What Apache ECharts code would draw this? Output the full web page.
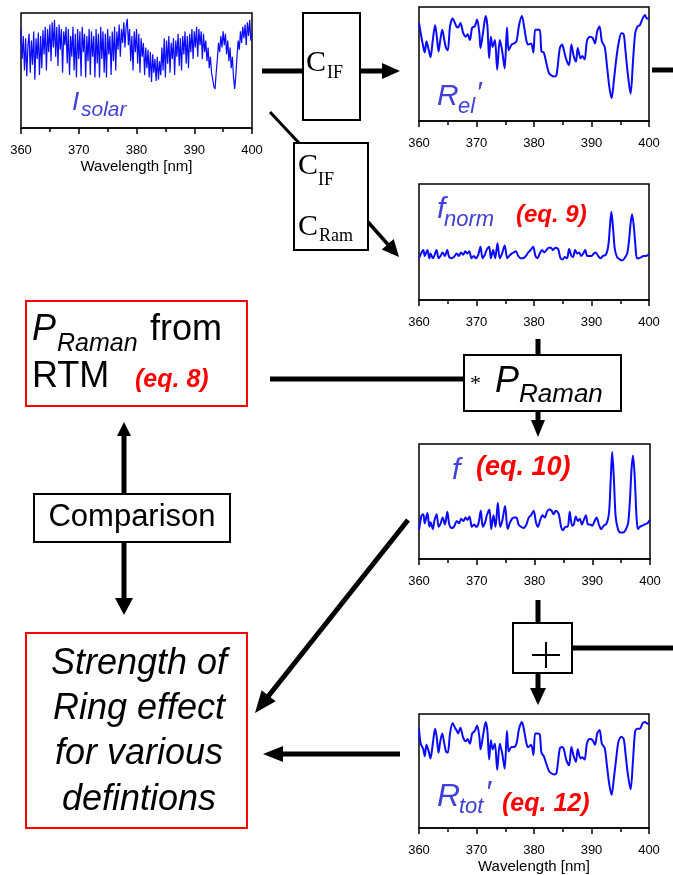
<!DOCTYPE html>
<html><head><meta charset="utf-8">
<script src="https://cdn.jsdelivr.net/npm/echarts@6/dist/echarts.min.js"></script>
<style>html,body{margin:0;padding:0;background:#fff}#c{width:673px;height:875px}</style>
</head><body><div id="c"></div>
<script>
// ---------- data ----------
const xTicks = [360, 370, 380, 390, 400];
const wlSolarStart = 360, wlSolarStep = 0.2;
const isolar = [
86,60,80,50,78,45,72,82,48,76,55,
84,42,78,60,83,46,80,52,85,64,
88,50,86,66,90,58,92,70,94,62,
88,54,90,68,86,48,84,72,88,56,
86,46,80,62,88,50,82,44,86,60,
84,45,88,66,82,44,80,58,86,46,
84,62,80,44,86,56,82,44,88,60,
84,48,82,44,86,64,80,46,84,58,
88,50,84,68,90,62,86,74,92,70,
88,95,72,86,58,80,50,84,66,86,
56,82,48,78,62,74,46,70,52,68,
44,66,40,64,48,60,41,62,42,58,
46,70,50,78,44,76,56,80,48,74,
60,78,46,76,62,82,54,78,50,80,
64,84,56,80,52,82,66,86,60,84,
70,88,62,86,72,84,60,82,66,76,
58,70,52,62,48,42,36,34,48,60,
74,66,80,70,84,72,82,64,76,58,
70,52,62,44,34,46,62,76,68,84,
74,88,78,90,72,92,80,94,76,82
];
const wlRefl = [360.0,360.3,360.75,361.0,361.3,361.7,362.0,362.4,362.8,363.1,
363.4,363.7,364.05,364.4,364.7,365.0,365.4,365.85,366.25,366.5,
366.8,367.2,367.7,368.15,368.45,368.85,369.25,369.7,370.1,370.5,
370.7,371.2,371.6,371.9,372.2,372.5,372.8,373.2,373.6,374.05,
374.45,374.9,375.3,375.6,376.1,376.5,376.95,377.4,377.9,378.3,
378.7,379.0,379.5,379.9,380.2,380.6,381.0,381.3,381.7,382.1,
382.6,383.0,383.5,383.9,384.5,384.9,385.2,385.6,386.1,386.5,
386.9,387.3,387.6,388.1,388.4,388.8,389.2,389.7,390.2,390.6,
391.0,391.4,391.8,392.3,392.7,393.1,393.5,393.9,394.3,394.7,
395.2,395.6,395.9,396.3,396.8,397.2,397.6,398.0,398.4,398.9,
399.3,399.6,400.0];
const relPrime = [86,77,65,60,70,62,56,71,84,74,
61,71,80,71,64,62,83,90,86,83,
82,86,77,74,76,71,82,83,89,77,
64,80,92,83,55,74,65,71,45,71,
62,46,82,62,67,68,70,84,92,82,
70,67,68,60,80,80,80,61,60,52,
42,40,39,40,64,67,62,54,49,67,
57,52,64,55,57,54,70,74,73,68,
79,83,70,65,48,30,20,36,54,68,
77,76,62,42,24,51,77,83,84,90,
93,90,90];
const rtotPrime = [87,74,69,63,73,67,61,74,87,79,
66,76,83,74,67,66,83,92,88,86,
83,88,79,76,78,74,83,85,90,80,
69,83,93,85,60,77,69,74,51,74,
66,52,85,67,71,71,74,87,93,85,
74,71,73,64,83,83,82,66,63,57,
50,48,47,48,70,71,69,60,55,71,
63,58,69,61,62,60,74,78,77,73,
83,86,74,70,54,38,29,44,61,76,
80,78,66,48,34,58,85,87,87,92,
93,92,91];
const wlRaman = [360.0,360.45,360.75,361.0,361.45,361.8,362.0,362.4,362.65,363.05,
363.4,363.75,364.1,364.5,364.9,365.25,365.65,366.05,366.55,366.95,
367.3,367.7,368.05,368.4,368.75,369.15,369.55,369.9,370.3,370.7,
371.05,371.45,371.75,372.2,372.5,372.9,373.25,373.65,374.05,374.45,
374.9,375.35,375.7,376.1,376.5,376.85,377.25,377.65,378.1,378.6,
379.0,379.4,379.85,380.25,380.6,381.0,381.4,381.8,382.15,382.55,
382.95,383.3,383.7,384.2,384.6,384.95,385.35,385.75,386.1,386.5,
386.8,387.15,387.5,387.85,388.2,388.55,388.9,389.25,389.6,390.0,
390.4,390.75,391.15,391.55,392.0,392.5,392.9,393.2,393.45,393.75,
394.05,394.45,394.9,395.35,395.75,396.2,396.5,396.8,397.05,397.35,
397.65,397.9,398.25,398.65,399.05,399.55,400.0];
const fNorm = [36,41,43,38,43,36,40,36,38,43,
36,38,41,38,43,37,36,37,40,38,
41,39,42,40,42,36,38,36,39,46,
36,39,43,46,36,43,36,49,36,40,
47,36,38,40,41,42,38,36,36,38,
41,43,46,38,36,40,43,41,43,45,
45,43,45,44,36,35,37,36,44,38,
37,43,40,41,38,40,43,38,38,38,
40,41,38,36,38,39,46,63,76,62,
44,37,35,34,36,40,50,66,74,64,
46,36,36,37,38,38,40];
const fRaman = [25,38,39,31,40,28,32,26,33,39,
28,31,36,30,41,30,27,28,33,31,
35,33,36,34,37,28,30,28,31,42,
28,32,38,43,26,38,28,49,28,34,
46,26,31,35,36,36,30,28,27,30,
36,38,42,32,28,34,38,36,41,43,
42,39,42,39,28,25,28,28,41,29,
30,37,33,35,30,34,38,30,30,29,
33,36,30,26,29,31,40,69,93,69,
37,26,23,23,25,31,49,78,90,72,
38,26,28,29,30,31,34];
const axisTitle = 'Wavelength [nm]';

// ---------- chart ----------
const SANS = '"Liberation Sans", Arial, Helvetica, sans-serif';
const SERIF = '"Liberation Serif", "Times New Roman", serif';
const LINE_BLUE = '#0a0aff';
const LABEL_BLUE = '#4040d8';
const RED = '#ff0000';

const grids = [
  {left: 21, top: 13, width: 231, height: 115},
  {left: 419, top: 7, width: 230, height: 114},
  {left: 419, top: 184, width: 230, height: 116},
  {left: 419, top: 444, width: 231, height: 115},
  {left: 419, top: 714, width: 230, height: 114}
].map(g => Object.assign({show: true, borderColor: '#000', borderWidth: 1.5, backgroundColor: 'transparent'}, g));

function xAx(i, withName) {
  const a = {
    type: 'value', gridIndex: i, min: xTicks[0], max: xTicks[xTicks.length - 1], interval: xTicks[1] - xTicks[0],
    axisLine: {show: true, onZero: false, lineStyle: {color: '#000', width: 1.5}},
    axisTick: {show: true, inside: false, length: 6, lineStyle: {color: '#000', width: 1.5}},
    minorTick: {show: true, splitNumber: 2, length: 4, lineStyle: {color: '#000', width: 1.5}},
    axisLabel: {color: '#000', fontSize: 13, margin: 16, fontFamily: SANS},
    splitLine: {show: false}, minorSplitLine: {show: false}
  };
  if (withName) {
    a.name = axisTitle; a.nameLocation = 'middle'; a.nameGap = 31;
    a.nameTextStyle = {color: '#000', fontSize: 15, fontFamily: SANS};
  }
  return a;
}
const xAxes = [xAx(0, true), xAx(1), xAx(2), xAx(3), xAx(4, true)];
const yAxes = [0,1,2,3,4].map(i => ({type: 'value', gridIndex: i, min: 0, max: 100, show: false}));

function ser(i, data, smooth, w) {
  return {type: 'line', xAxisIndex: i, yAxisIndex: i, data: data, symbol: 'none', showSymbol: false,
    smooth: smooth, lineStyle: {color: LINE_BLUE, width: w}, silent: true, z: 3};
}
const solarData = isolar.map((v, k) => [+(wlSolarStart + k * wlSolarStep).toFixed(1), v]);
const series = [
  ser(0, solarData, false, 1.2),
  ser(1, wlRefl.map((x, k) => [x, relPrime[k]]), 0.3, 2),
  ser(2, wlRaman.map((x, k) => [x, fNorm[k]]), 0.3, 2),
  ser(3, wlRaman.map((x, k) => [x, fRaman[k]]), 0.3, 2),
  ser(4, wlRefl.map((x, k) => [x, rtotPrime[k]]), 0.3, 2)
];

// ---------- diagram helpers ----------
function ln(x1, y1, x2, y2, w, z) {
  return {type: 'line', shape: {x1, y1, x2, y2}, style: {stroke: '#000', lineWidth: w, lineCap: 'butt'}, z: z || 10, silent: true};
}
function arrow(x1, y1, x2, y2, w, hl, hw) {
  const dx = x2 - x1, dy = y2 - y1, L = Math.hypot(dx, dy), ux = dx / L, uy = dy / L;
  const bx = x2 - ux * hl, by = y2 - uy * hl, px = -uy, py = ux;
  return [ln(x1, y1, bx + ux, by + uy, w),
    {type: 'polygon', shape: {points: [[x2, y2], [bx + px * hw, by + py * hw], [bx - px * hw, by - py * hw]]},
     style: {fill: '#000'}, z: 10, silent: true}];
}
function box(x, y, w, h, color, lw) {
  return {type: 'rect', shape: {x, y, width: w, height: h}, style: {fill: '#fff', stroke: color, lineWidth: lw}, z: 11, silent: true};
}
function txt(s, x, base, fs, o) {
  o = o || {};
  const al = o.align || 'left';
  return {type: 'text', x: x, y: base - 0.35 * fs, z: 12, silent: true,
    style: {text: s, fill: o.color || '#000',
      font: (o.italic ? 'italic ' : '') + (o.bold ? 'bold ' : '') + fs + 'px ' + (o.family || SANS),
      align: al, verticalAlign: 'middle', textAlign: al, textVerticalAlign: 'middle'}};
}

const g = [];
// top row: Isolar -> C_IF -> Rel'
g.push(ln(262, 71, 303, 71, 5));
g.push(box(303, 13, 57, 107, '#000', 2));
g.push(txt('C', 306, 74, 30, {family: SERIF}));
g.push(txt('IF', 327, 80, 18, {family: SERIF}));
g.push(...arrow(360, 71, 400, 71, 5, 18, 8));
g.push(ln(652, 70, 673, 70, 5));
// diagonal to C_IF/C_Ram box
g.push(ln(270, 112, 299, 143, 3));
g.push(box(294, 143, 74, 107, '#000', 2));
g.push(txt('C', 298, 177, 30, {family: SERIF}));
g.push(txt('IF', 318, 187, 18, {family: SERIF}));
g.push(txt('C', 298, 238, 30, {family: SERIF}));
g.push(txt('Ram', 319, 243, 18, {family: SERIF}));
g.push(...arrow(368, 222, 399, 257, 3.5, 17, 8));

// labels inside plots
g.push(txt('I', 72, 112, 26, {italic: true, color: LABEL_BLUE}));
g.push(txt('solar', 81, 118, 21, {italic: true, color: LABEL_BLUE}));
g.push(txt('R', 437, 107, 30, {italic: true, color: LABEL_BLUE}));
g.push(txt('el', 458, 115, 22, {italic: true, color: LABEL_BLUE}));
g.push(txt('\u2032', 476, 104, 30, {italic: true, color: LABEL_BLUE}));
g.push(txt('f', 437, 220, 30, {italic: true, color: LABEL_BLUE}));
g.push(txt('norm', 444, 228, 22, {italic: true, color: LABEL_BLUE}));
g.push(txt('(eq. 9)', 516, 224, 24, {italic: true, bold: true, color: RED}));
g.push(txt('f', 452, 481, 30, {italic: true, color: LABEL_BLUE}));
g.push(txt('(eq. 10)', 476, 477, 27, {italic: true, bold: true, color: RED}));
g.push(txt('R', 437, 808, 32, {italic: true, color: LABEL_BLUE}));
g.push(txt('tot', 459, 815, 22, {italic: true, color: LABEL_BLUE}));
g.push(txt('\u2032', 485, 805, 32, {italic: true, color: LABEL_BLUE}));
g.push(txt('(eq. 12)', 502, 813, 25, {italic: true, bold: true, color: RED}));

// P_Raman row
g.push(ln(538, 339, 538, 356, 5));
g.push(ln(270, 379, 465, 379, 5));
g.push(box(464, 355, 157, 56, '#000', 2));
g.push(txt('*', 470, 392, 22, {family: SERIF}));
g.push(txt('P', 495, 395, 36, {italic: true}));
g.push(txt('Raman', 519, 404, 26, {italic: true}));
g.push(...arrow(538, 411, 538, 437, 5, 17, 7));

g.push(box(26, 301, 221, 105, RED, 2));
g.push(txt('P', 32, 343, 36, {italic: true}));
g.push(txt('Raman', 57, 353, 25, {italic: true}));
g.push(txt('from', 150, 343, 36));
g.push(txt('RTM', 32, 390, 36));
g.push(txt('(eq. 8)', 135, 389, 25, {italic: true, bold: true, color: RED}));

// comparison
g.push(...arrow(124, 494, 124, 422, 5, 14, 7));
g.push(box(34, 494, 196, 48, '#000', 2));
g.push(txt('Comparison', 132, 528, 31, {align: 'center'}));
g.push(...arrow(124, 542, 124, 615, 5, 17, 9));
g.push(box(26, 633, 221, 195, RED, 2));
g.push(txt('Strength of', 139, 677, 36, {italic: true, align: 'center'}));
g.push(txt('Ring effect', 139, 722, 36, {italic: true, align: 'center'}));
g.push(txt('for various', 139, 767, 36, {italic: true, align: 'center'}));
g.push(txt('defintions', 139, 813, 36, {italic: true, align: 'center'}));
g.push(...arrow(408, 520, 255, 713, 5, 22, 9));
g.push(...arrow(400, 754, 263, 754, 5, 20, 8));

// plus box
g.push(ln(538, 600, 538, 624, 5));
g.push(box(513, 623, 59, 50, '#000', 2));
g.push(ln(532, 655, 560, 655, 2, 13));
g.push(ln(546, 642, 546, 668, 2, 13));
g.push(ln(571, 648, 673, 648, 5));
g.push(...arrow(538, 673, 538, 705, 5, 17, 8));

const chart = echarts.init(document.getElementById('c'), null, {renderer: 'canvas'});
chart.setOption({
  animation: false,
  backgroundColor: '#fff',
  grid: grids,
  xAxis: xAxes,
  yAxis: yAxes,
  series: series,
  graphic: {elements: g}
});
</script></body></html>
